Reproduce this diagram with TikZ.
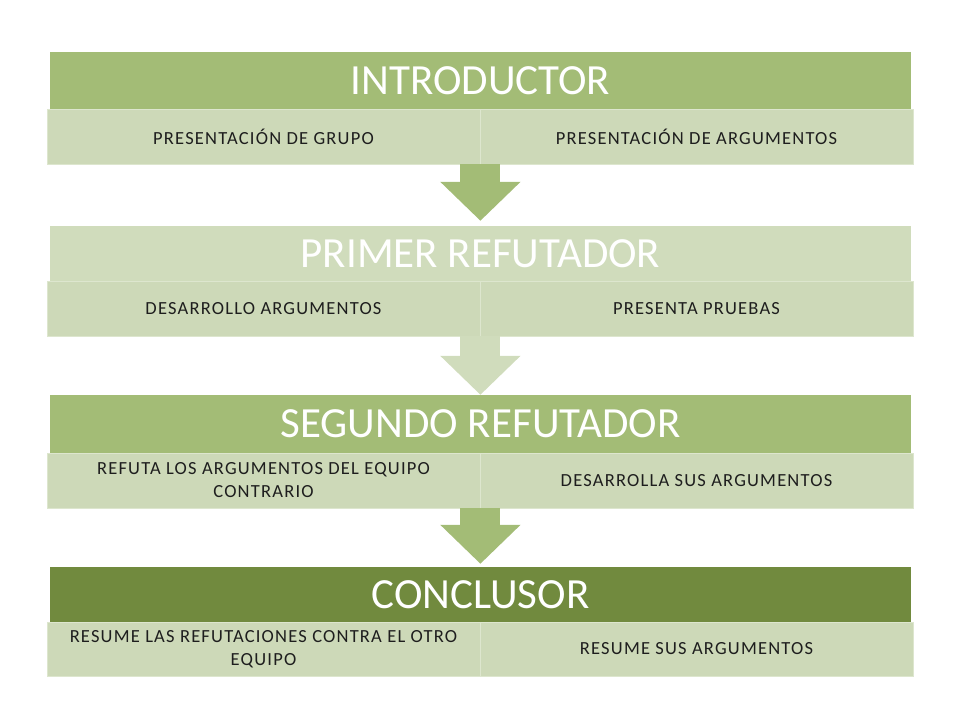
\documentclass[tikz,border=0pt]{standalone}
\usepackage{fontspec}
\setmainfont{Carlito}
\newfontfamily\cellfont[LetterSpace=6.5]{Carlito}
\usetikzlibrary{arrows.meta}

\definecolor{midgreen}{HTML}{A3BC76}
\definecolor{palegreen}{HTML}{D0DCBC}
\definecolor{cellgreen}{HTML}{CDD9B8}
\definecolor{darkgreen}{HTML}{718A3E}
\definecolor{cellline}{HTML}{DDE6CE}
\definecolor{celltext}{HTML}{1E1E1E}

\tikzset{
  band/.style={minimum width=861pt, minimum height=57pt, inner sep=0pt,
    text=white, font=\fontsize{43}{47}\selectfont},
  cell/.style={minimum width=433pt, minimum height=55pt, inner sep=0pt,
    fill=cellgreen, draw=cellline, line width=0.8pt, text=celltext,
    align=center, font=\cellfont\fontsize{18.5}{23}\selectfont},
  flow/.style={line width=40pt, -{Triangle[length=39pt,width=78pt]}}
}

\begin{document}
\begin{tikzpicture}

  \useasboundingbox (0,0) rectangle (960pt,-720pt);

  %% introductor
  \node[band, fill=midgreen] (intro) at (480.5pt,-80.5pt) {INTRODUCTOR};
  \node[cell] (introA) at (263.5pt,-136.5pt) {PRESENTACIÓN DE GRUPO};
  \node[cell] (introB) at (696.5pt,-136.5pt) {PRESENTACIÓN DE ARGUMENTOS};

  %% primer refutador
  \node[band, fill=palegreen, minimum height=55pt] (primer) at (480.5pt,-253.5pt) {PRIMER REFUTADOR};
  \node[cell] (primerA) at (263.5pt,-308.5pt) {DESARROLLO ARGUMENTOS};
  \node[cell] (primerB) at (696.5pt,-308.5pt) {PRESENTA PRUEBAS};

  %% segundo refutador
  \node[band, fill=midgreen, minimum height=58pt] (segundo) at (480.5pt,-424pt) {SEGUNDO REFUTADOR};
  \node[cell] (segundoA) at (263.5pt,-480.5pt) {REFUTA LOS ARGUMENTOS DEL EQUIPO\\CONTRARIO};
  \node[cell] (segundoB) at (696.5pt,-480.5pt) {DESARROLLA SUS ARGUMENTOS};

  %% conclusor
  \node[band, fill=darkgreen, minimum height=55pt] (concl) at (480.5pt,-594.5pt) {CONCLUSOR};
  \node[cell, minimum height=54pt] (conclA) at (263.5pt,-649pt) {RESUME LAS REFUTACIONES CONTRA EL OTRO\\EQUIPO};
  \node[cell, minimum height=54pt] (conclB) at (696.5pt,-649pt) {RESUME SUS ARGUMENTOS};

  %% flechas entre bandas
  \draw[flow, midgreen, shorten >=5pt] (introA.south east) -- (introA.south east |- primer.north);
  \draw[flow, palegreen] (primerA.south east) -- (primerA.south east |- segundo.north);
  \draw[flow, midgreen, shorten >=3pt] (segundoA.south east) -- (segundoA.south east |- concl.north);

\end{tikzpicture}
\end{document}
